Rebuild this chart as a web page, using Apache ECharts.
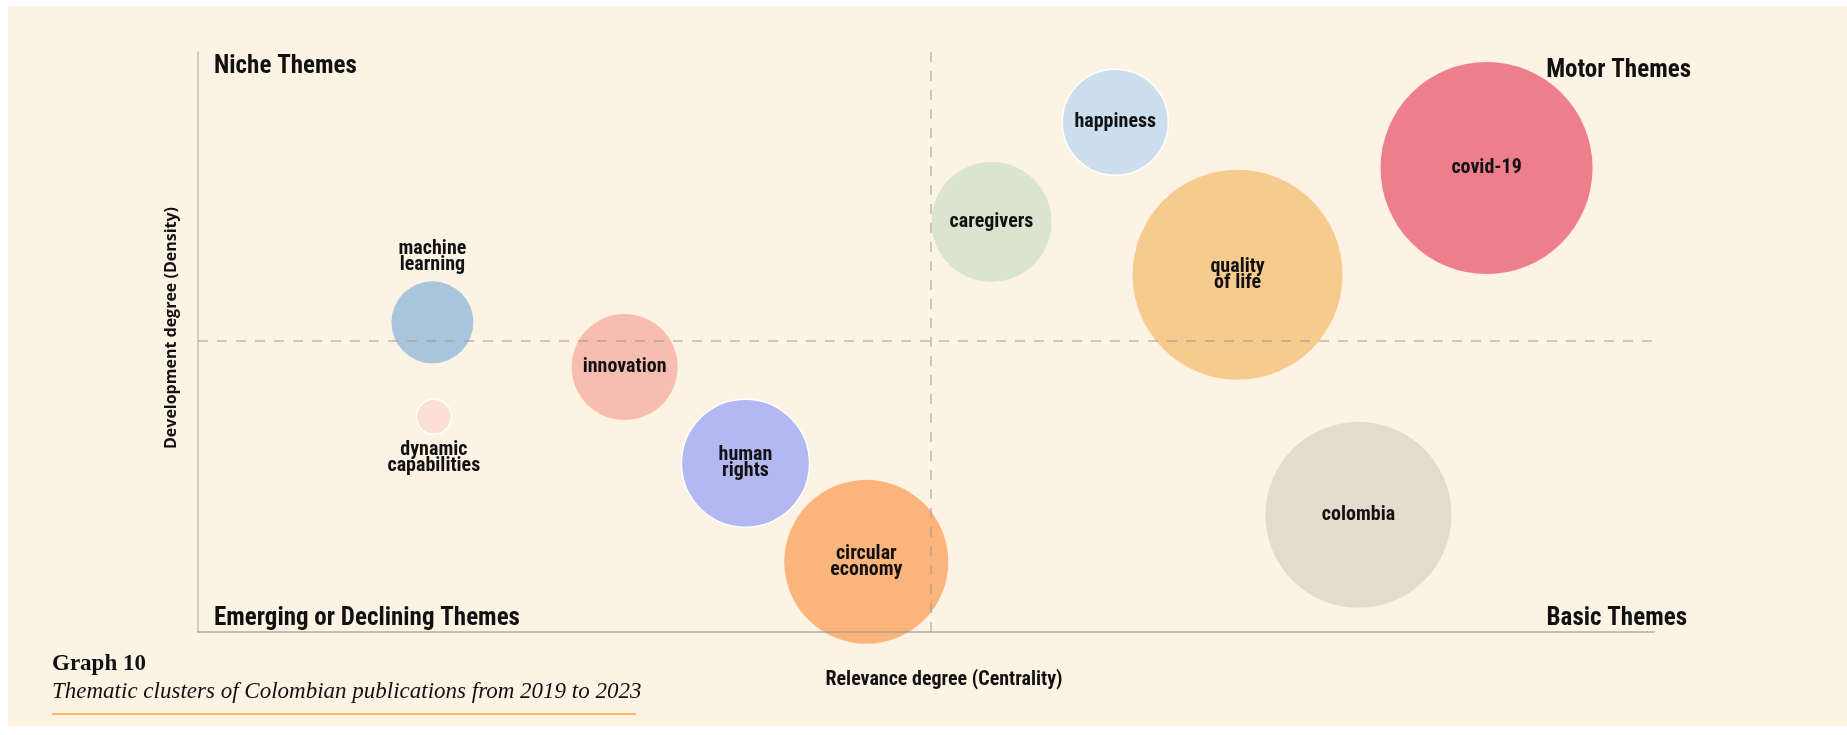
<!DOCTYPE html>
<html>
<head>
<meta charset="utf-8">
<script src="https://cdn.jsdelivr.net/npm/echarts@6/dist/echarts.min.js"></script>
<style>
  html, body { margin: 0; padding: 0; background: #fff; }
  #chart { width: 1847px; height: 735px; }
</style>
</head>
<body>
<div id="chart"></div>
<script>
// 主题聚类数据
const themes = ['machine\nlearning', 'dynamic\ncapabilities', 'innovation', 'human\nrights', 'circular\neconomy',
  'caregivers', 'happiness', 'quality\nof life', 'covid-19', 'colombia']
const centrality = [16.1, 16.2, 29.3, 37.6, 45.9, 54.5, 63.0, 71.4, 88.5, 79.7]
const density = [53.4, 37.1, 45.7, 29.1, 12.1, 70.7, 87.9, 61.6, 80.0, 20.2]
const clusterWeight = [41, 17.5, 53, 64, 82, 60, 53, 105, 106, 93]
const centralityMedian = 50.3
const densityMedian = 50.2

const colors = ['#a9c5dc', '#fce0d5', '#f7bdb1', '#b3b7f2', '#fdb47b', '#d9e5d1', '#cbdeed', '#f7ca8e', '#ee7e8c', '#e4dacd']
const bordered = ['dynamic\ncapabilities', 'human\nrights', 'happiness']

const labelFont = "'Roboto Condensed', 'Liberation Sans Narrow', 'DejaVu Sans Condensed', Roboto, sans-serif"
const serifFont = "'Liberation Serif', 'DejaVu Serif', serif"

const chart = echarts.init(document.getElementById('chart'))

const points = themes.map((name, i) => {
  let pos = 'inside'
  if (name === 'machine\nlearning') pos = 'top'
  if (name === 'dynamic\ncapabilities') pos = 'bottom'
  return {
    name,
    value: [centrality[i], density[i], clusterWeight[i]],
    itemStyle: {
      color: colors[i],
      opacity: 1,
      borderColor: bordered.includes(name) ? '#ffffff' : 'transparent',
      borderWidth: bordered.includes(name) ? 1.5 : 0
    },
    label: { position: pos, distance: pos === 'top' ? 8 : 7 }
  }
})

const quadrantStyle = { fontSize: 25, fontWeight: 'bold', fontFamily: labelFont, fill: '#111' }

const option = {
  backgroundColor: '#ffffff',
  animation: false,
  grid: { left: 198, right: 193, top: 52, bottom: 103 },
  xAxis: {
    type: 'value',
    min: 0,
    max: 100,
    z: 5,
    name: 'Relevance degree (Centrality)',
    nameLocation: 'middle',
    nameGap: 38,
    nameTextStyle: { fontSize: 20, fontWeight: 'bold', fontFamily: labelFont, color: '#111', padding: [0, 0, 0, 36] },
    axisLine: { show: true, lineStyle: { color: 'rgba(160,155,150,0.6)', width: 2 } },
    axisTick: { show: false },
    axisLabel: { show: false },
    splitLine: { show: false }
  },
  yAxis: {
    type: 'value',
    min: 0,
    max: 100,
    z: 5,
    name: 'Development degree (Density)',
    nameLocation: 'middle',
    nameGap: 19,
    nameTextStyle: { fontSize: 16, fontWeight: 'bold', fontFamily: "'Open Sans', sans-serif", color: '#111', padding: [0, 0, 0, 28] },
    axisLine: { show: true, lineStyle: { color: 'rgba(160,155,150,0.6)', width: 1.5 } },
    axisTick: { show: false },
    axisLabel: { show: false },
    splitLine: { show: false }
  },
  series: [{
    type: 'scatter',
    data: points,
    symbolSize: v => v[2] * 2,
    label: {
      show: true,
      formatter: p => p.name,
      color: '#111',
      fontSize: 20,
      lineHeight: 16,
      fontWeight: 'bold',
      fontFamily: labelFont
    },
    markLine: {
      silent: true,
      symbol: 'none',
      z: 10,
      label: { show: false },
      lineStyle: { color: 'rgba(150,145,140,0.6)', type: [10, 9], width: 1.5 },
      data: [{ xAxis: centralityMedian }, { yAxis: densityMedian }]
    }
  }],
  graphic: [
    { type: 'rect', z: -10, shape: { x: 8, y: 6, width: 1839, height: 720 }, style: { fill: '#fdf3e4' } },
    { type: 'text', left: 214, top: 54, style: Object.assign({ text: 'Niche Themes' }, quadrantStyle) },
    { type: 'text', right: 1847 - 1691, top: 58, style: Object.assign({ text: 'Motor Themes' }, quadrantStyle) },
    { type: 'text', left: 214, top: 606, style: Object.assign({ text: 'Emerging or Declining Themes' }, quadrantStyle) },
    { type: 'text', right: 1847 - 1687, top: 606, style: Object.assign({ text: 'Basic Themes' }, quadrantStyle) },
    { type: 'text', left: 52, top: 653, style: { text: 'Graph 10', fontSize: 23, fontWeight: 'bold', fontFamily: serifFont, fill: '#111' } },
    { type: 'text', left: 52, top: 680, style: { text: 'Thematic clusters of Colombian publications from 2019 to 2023', fontSize: 23, fontStyle: 'italic', fontFamily: serifFont, fill: '#111' } },
    { type: 'line', shape: { x1: 52, y1: 714, x2: 636, y2: 714 }, style: { stroke: '#f7a823', lineWidth: 1.5 } }
  ]
}

chart.setOption(option)
</script>
</body>
</html>
